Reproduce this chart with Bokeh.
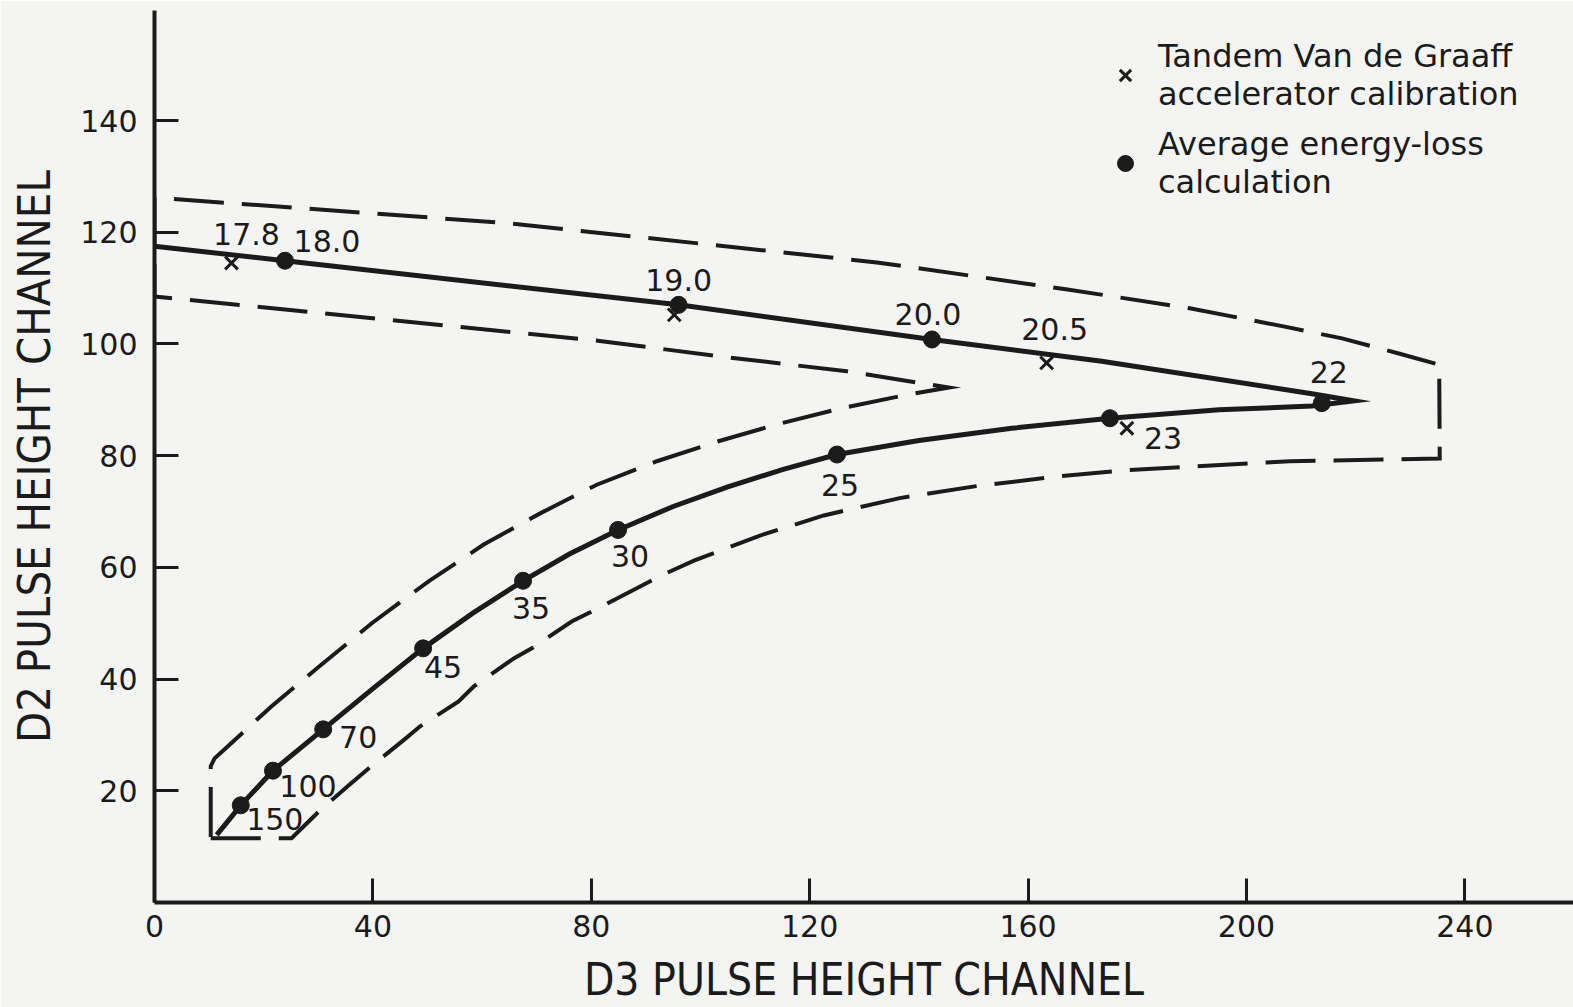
from bokeh.plotting import figure
from bokeh.models import ColumnDataSource, FixedTicker, Legend, LegendItem
from bokeh.core.properties import value
from bokeh.embed import file_html
from bokeh.resources import INLINE

INK = "#1b1b1b"
PAPER = "#f4f4f2"
FONT = "DejaVu Sans"
NARROW = "'DejaVu Sans Condensed', 'DejaVu Sans', sans-serif"

# ---- data ----
# Average energy-loss calculation (dots), energies in MeV
calc_energy = ["150", "100", "70", "45", "35", "30", "25", "23", "22", "20.0", "19.0", "18.0"]
calc_d3 = [15.8, 21.7, 30.9, 49.2, 67.5, 84.9, 125.0, 175.0, 213.8, 142.4, 96.0, 23.9]
calc_d2 = [17.4, 23.6, 31.0, 45.5, 57.6, 66.7, 80.2, 86.7, 89.4, 100.8, 107.0, 114.9]

# Tandem Van de Graaff accelerator calibration (crosses)
tandem_energy = ["17.8", "19.0", "20.5", "23"]
tandem_label = ["17.8", "", "20.5", ""]
tandem_d3 = [14.1, 95.2, 163.4, 178.1]
tandem_d2 = [114.5, 105.2, 96.6, 84.9]

# smooth calibration curve (solid line)
curve_d3 = [11.4, 15.8, 21.7, 30.9, 40.0, 49.2, 58.3, 67.5, 76.0, 84.9, 95.0, 105.0,
            115.0, 125.0, 140.0, 157.0, 175.0, 195.0, 212.0, 219.7,
            212.0, 173.5, 142.4, 96.0, 23.9, 0.0]
curve_d2 = [12.1, 17.4, 23.6, 31.0, 38.3, 45.5, 51.8, 57.6, 62.4, 66.7, 70.9, 74.4,
            77.5, 80.2, 82.7, 84.9, 86.7, 88.2, 88.9, 89.8,
            91.1, 96.9, 100.8, 107.0, 114.9, 117.5]

# acceptance envelope (dashed)
envelope_d3 = [10.3, 25.1, 27.3, 30.1, 35.7, 39.2, 45.8, 48.6, 55.7, 58.5, 65.8, 69.1,
               76.4, 80.1, 87.8, 92.9, 98.8, 110.9, 122.6, 136.5, 150.2, 165.6, 178.1,
               208.0, 235.4, 235.3, 227.9, 217.5, 207.0, 189.6, 166.9, 132.3, 65.0, 0.0,
               0.0, 81.9, 103.3, 126.8, 145.5, 138.3, 125.9, 114.0, 103.0, 92.0, 81.0,
               70.9, 60.3, 50.2, 39.8, 30.6, 21.4, 12.8, 11.0, 10.3, 10.3]
envelope_d2 = [11.5, 11.5, 13.6, 16.3, 21.1, 24.0, 29.2, 31.5, 36.0, 38.7, 43.7, 45.5,
               50.3, 52.1, 56.0, 58.6, 61.2, 65.7, 69.3, 72.4, 74.5, 76.3, 77.4,
               79.0, 79.5, 96.3, 98.3, 101.0, 103.1, 106.4, 109.8, 114.6, 121.6, 126.2,
               108.5, 100.5, 97.8, 95.1, 92.2, 91.0, 88.5, 85.6, 82.5, 79.0, 74.8,
               69.8, 64.1, 57.5, 50.0, 42.6, 35.1, 27.4, 25.8, 24.4, 11.5]

x_ticks = [0, 40, 80, 120, 160, 200, 240]
y_ticks = [20, 40, 60, 80, 100, 120, 140]

# label placement (pixels, relative to the point)
calc_dx = [34, 35, 35, 20, 8, 12, 3, 53, 7, -4, 0, 42]
calc_dy = [14, 15, 8, 19, 27, 26, 30, 20, -31, -25, -25, -20]
tandem_dx = [15, 0, 8, 0]
tandem_dy = [-29, 0, -34, 0]

W, H = 1573, 1007
p = figure(width=W, height=H, output_backend="svg", toolbar_location=None,
           x_range=(0, 259.9), y_range=(0, 159.7),
           min_border_left=154, min_border_right=0, min_border_top=10, min_border_bottom=105)
p.background_fill_color = PAPER
p.border_fill_color = PAPER
p.outline_line_color = None
p.grid.visible = False

for ax in (p.xaxis[0], p.yaxis[0]):
    ax.axis_line_width = 4
    ax.axis_line_color = INK
    ax.major_tick_line_color = INK
    ax.major_tick_line_width = 3
    ax.major_tick_in = 24
    ax.major_tick_out = 0
    ax.minor_tick_line_color = None
    ax.major_label_text_font = FONT
    ax.major_label_text_font_size = "30px"
    ax.major_label_text_color = INK
    ax.axis_label_text_font = NARROW
    ax.axis_label_text_font_style = "normal"
    ax.axis_label_text_color = INK
p.xaxis[0].ticker = FixedTicker(ticks=x_ticks)
p.yaxis[0].ticker = FixedTicker(ticks=y_ticks)
p.xaxis[0].major_label_standoff = 12
p.yaxis[0].major_label_standoff = 17
p.xaxis[0].axis_label = "D3 PULSE HEIGHT CHANNEL"
p.yaxis[0].axis_label = "D2 PULSE HEIGHT CHANNEL"
p.xaxis[0].axis_label_text_font_size = "44px"
p.yaxis[0].axis_label_text_font_size = "45px"
p.xaxis[0].axis_label_standoff = 14
p.yaxis[0].axis_label_standoff = 16

# envelope
env_src = ColumnDataSource(dict(x=envelope_d3, y=envelope_d2))
p.line("x", "y", source=env_src, line_color=INK, line_width=4,
       line_dash="50 18", line_join="miter")

# curve
curve_src = ColumnDataSource(dict(x=curve_d3, y=curve_d2))
p.line("x", "y", source=curve_src, line_color=INK, line_width=5, line_join="miter")

calc_src = ColumnDataSource(dict(x=calc_d3, y=calc_d2, lab=calc_energy, dx=calc_dx, dy=calc_dy))
tand_src = ColumnDataSource(dict(x=tandem_d3, y=tandem_d2, lab=tandem_label, dx=tandem_dx, dy=tandem_dy))

r_dot = p.scatter("x", "y", source=calc_src, marker="circle", size=17,
                  fill_color=INK, line_color=INK)
r_x = p.scatter("x", "y", source=tand_src, marker="x", size=18,
                line_color=INK, line_width=3)

for src in (calc_src, tand_src):
    p.text("x", "y", text="lab", source=src, x_offset="dx", y_offset="dy",
           text_font=value(FONT), text_font_size="30px", text_color=INK,
           text_align="center", text_baseline="middle")

legend = Legend(items=[
    LegendItem(label="Tandem Van de Graaff\naccelerator calibration", renderers=[r_x]),
    LegendItem(label="Average energy-loss\ncalculation", renderers=[r_dot]),
], location=(951, 701))
legend.background_fill_alpha = 0
legend.border_line_color = None
legend.label_text_font = FONT
legend.label_text_font_size = "32px"
legend.label_text_color = INK
legend.label_text_line_height = 0.82
legend.glyph_width = 40
legend.glyph_height = 40
legend.label_standoff = 13
legend.spacing = 12
legend.padding = 0
legend.margin = 0
p.add_layout(legend)

open("out.html", "w").write(file_html(p, INLINE))
